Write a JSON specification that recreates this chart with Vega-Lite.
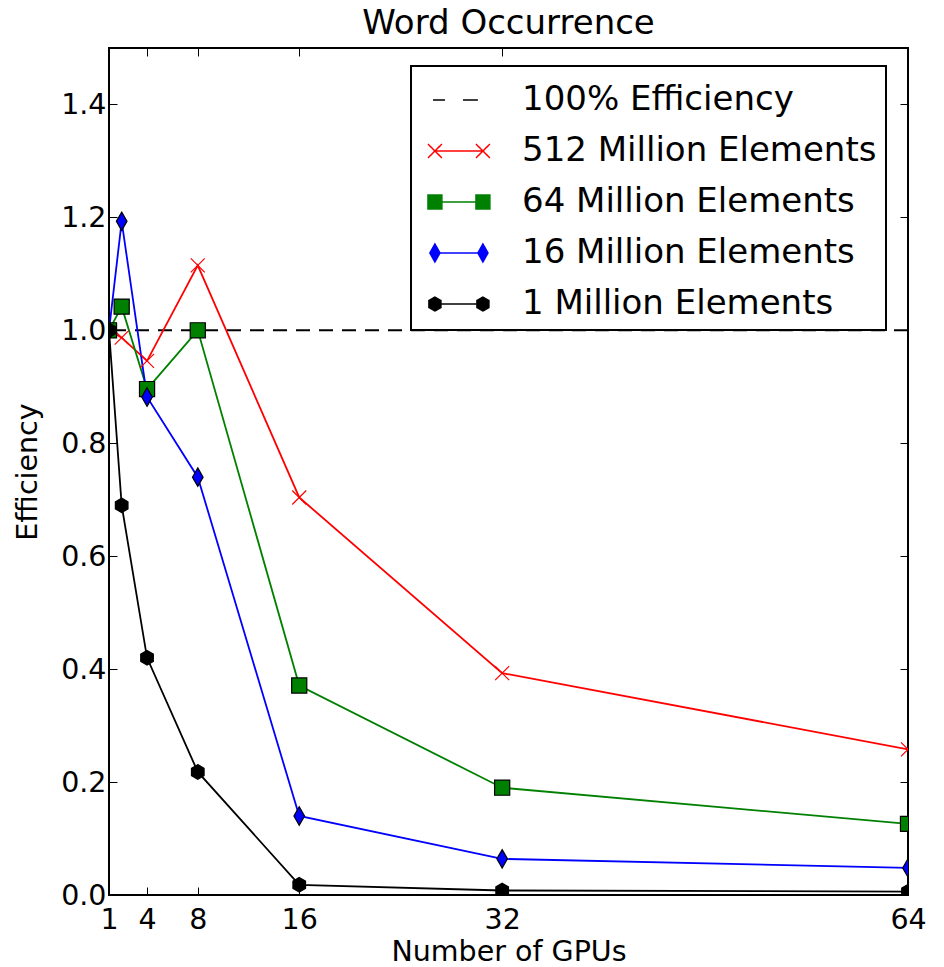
{
  "$schema": "https://vega.github.io/schema/vega-lite/v6.json",
  "width": 799,
  "height": 847,
  "autosize": {"type": "none"},
  "padding": {"left": 109, "top": 48, "right": 36, "bottom": 72},
  "background": "white",
  "title": {"text": "Word Occurrence", "fontSize": 34, "font": "DejaVu Sans", "fontWeight": "normal", "color": "black", "offset": 7},
  "config": {
    "view": {"stroke": "black", "strokeWidth": 2},
    "axis": {"labelFont": "DejaVu Sans", "titleFont": "DejaVu Sans", "labelColor": "black", "titleColor": "black", "titleFontWeight": "normal", "labelFontSize": 28.5, "titleFontSize": 28.5, "grid": false, "domain": false, "tickColor": "black", "tickSize": -8, "tickWidth": 1}
  },
  "datasets": {
    "eff": [
      {"gpus": 1, "eff": 1.0, "series": "512 Million Elements"},
      {"gpus": 2, "eff": 0.987, "series": "512 Million Elements"},
      {"gpus": 4, "eff": 0.946, "series": "512 Million Elements"},
      {"gpus": 8, "eff": 1.115, "series": "512 Million Elements"},
      {"gpus": 16, "eff": 0.704, "series": "512 Million Elements"},
      {"gpus": 32, "eff": 0.393, "series": "512 Million Elements"},
      {"gpus": 64, "eff": 0.258, "series": "512 Million Elements"},
      {"gpus": 1, "eff": 1.0, "series": "64 Million Elements"},
      {"gpus": 2, "eff": 1.042, "series": "64 Million Elements"},
      {"gpus": 4, "eff": 0.896, "series": "64 Million Elements"},
      {"gpus": 8, "eff": 1.0, "series": "64 Million Elements"},
      {"gpus": 16, "eff": 0.371, "series": "64 Million Elements"},
      {"gpus": 32, "eff": 0.19, "series": "64 Million Elements"},
      {"gpus": 64, "eff": 0.126, "series": "64 Million Elements"},
      {"gpus": 1, "eff": 1.0, "series": "16 Million Elements"},
      {"gpus": 2, "eff": 1.193, "series": "16 Million Elements"},
      {"gpus": 4, "eff": 0.882, "series": "16 Million Elements"},
      {"gpus": 8, "eff": 0.74, "series": "16 Million Elements"},
      {"gpus": 16, "eff": 0.14, "series": "16 Million Elements"},
      {"gpus": 32, "eff": 0.064, "series": "16 Million Elements"},
      {"gpus": 64, "eff": 0.048, "series": "16 Million Elements"},
      {"gpus": 1, "eff": 1.0, "series": "1 Million Elements"},
      {"gpus": 2, "eff": 0.69, "series": "1 Million Elements"},
      {"gpus": 4, "eff": 0.42, "series": "1 Million Elements"},
      {"gpus": 8, "eff": 0.218, "series": "1 Million Elements"},
      {"gpus": 16, "eff": 0.018, "series": "1 Million Elements"},
      {"gpus": 32, "eff": 0.008, "series": "1 Million Elements"},
      {"gpus": 64, "eff": 0.006, "series": "1 Million Elements"}
    ]
  },
  "resolve": {"axis": {"x": "independent", "y": "independent"}},
  "layer": [
    {
      "data": {"values": [{"series": "100% Efficiency", "eff": 1}]},
      "mark": {"type": "rule", "strokeDash": [14, 9], "strokeWidth": 2},
      "encoding": {
        "y": {"field": "eff", "type": "quantitative", "scale": {"domain": [0, 1.5], "nice": false}, "axis": null},
        "color": {"field": "series", "type": "nominal"}
      }
    },
    {
      "data": {"name": "eff"},
      "mark": {"type": "line", "strokeWidth": 1.8, "clip": true},
      "encoding": {
        "x": {"field": "gpus", "type": "quantitative", "scale": {"domain": [1, 64], "nice": false, "zero": false},
              "axis": {"values": [1, 4, 8, 16, 32, 64], "title": "Number of GPUs", "labelPadding": 18, "titlePadding": 4, "labelFlush": false}},
        "y": {"field": "eff", "type": "quantitative", "scale": {"domain": [0, 1.5], "nice": false},
              "axis": {"values": [0, 0.2, 0.4, 0.6, 0.8, 1.0, 1.2, 1.4], "format": ".1f", "title": "Efficiency", "labelPadding": 11, "titlePadding": 18}},
        "color": {
          "field": "series", "type": "nominal",
          "scale": {"domain": ["100% Efficiency", "512 Million Elements", "64 Million Elements", "16 Million Elements", "1 Million Elements"],
                    "range": ["black", "#ff0000", "#008000", "#0000ff", "black"]},
          "legend": {
            "orient": "none", "legendX": 302, "legendY": 18, "title": null,
            "labelFontSize": 34, "labelFont": "DejaVu Sans", "labelColor": "black", "labelLimit": 0,
            "symbolSize": 2304, "symbolStrokeWidth": 1.5, "strokeColor": "black", "fillColor": "white",
            "padding": 9, "labelOffset": 52, "rowPadding": 9,
            "encode": {
              "legend": {"update": {"strokeWidth": {"value": 2}}},
              "symbols": {"update": {
                "shape": {"signal": "datum.value === '100% Efficiency' ? 'M-0.5,0L0,0M0.75,0L1.37,0' : datum.value === '512 Million Elements' ? 'M-0.42,0L1.58,0M-0.71,-0.29L-0.13,0.29M-0.71,0.29L-0.13,-0.29M1.29,-0.29L1.87,0.29M1.29,0.29L1.87,-0.29' : datum.value === '64 Million Elements' ? 'M-0.42,0L1.58,0M-0.71,-0.29L-0.13,-0.29L-0.13,0.29L-0.71,0.29ZM1.29,-0.29L1.87,-0.29L1.87,0.29L1.29,0.29Z' : datum.value === '16 Million Elements' ? 'M-0.42,0L1.58,0M-0.42,-0.375L-0.21,0L-0.42,0.375L-0.63,0ZM1.58,-0.375L1.79,0L1.58,0.375L1.37,0Z' : 'M-0.42,0L1.58,0M-0.42,-0.29L-0.17,-0.145L-0.17,0.145L-0.42,0.29L-0.67,0.145L-0.67,-0.145ZM1.58,-0.29L1.83,-0.145L1.83,0.145L1.58,0.29L1.33,0.145L1.33,-0.145Z'"},
                "stroke": {"signal": "datum.value === '512 Million Elements' ? '#ff0000' : datum.value === '64 Million Elements' ? '#008000' : datum.value === '16 Million Elements' ? '#0000ff' : 'black'"},
                "fill": {"signal": "datum.value === '64 Million Elements' ? '#008000' : datum.value === '16 Million Elements' ? '#0000ff' : datum.value === '1 Million Elements' ? 'black' : 'transparent'"},
                "strokeDash": {"value": [1, 0]},
                "opacity": {"value": 1}
              }}
            }
          }
        }
      }
    },
    {
      "data": {"name": "eff"},
      "mark": {"type": "point", "filled": true, "size": 3136, "opacity": 1, "strokeWidth": 1.2, "clip": true},
      "encoding": {
        "x": {"field": "gpus", "type": "quantitative", "axis": null},
        "y": {"field": "eff", "type": "quantitative", "axis": null},
        "color": {"field": "series", "type": "nominal"},
        "shape": {"field": "series", "type": "nominal", "legend": null,
                  "scale": {"domain": ["512 Million Elements", "64 Million Elements", "16 Million Elements", "1 Million Elements"],
                            "range": ["M-0.25,-0.25L0.25,0.25M-0.25,0.25L0.25,-0.25", "M-0.27,-0.27L0.27,-0.27L0.27,0.27L-0.27,0.27Z", "M0,-0.33L0.19,0L0,0.33L-0.19,0Z", "M0,-0.26L0.225,-0.13L0.225,0.13L0,0.26L-0.225,0.13L-0.225,-0.13Z"]}},
        "stroke": {"field": "series", "type": "nominal", "legend": null,
                   "scale": {"domain": ["512 Million Elements", "64 Million Elements", "16 Million Elements", "1 Million Elements"],
                             "range": ["#ff0000", "black", "black", "black"]}}
      }
    },
    {
      "data": {"name": "eff"},
      "mark": {"type": "point", "opacity": 0},
      "encoding": {
        "x": {"field": "gpus", "type": "quantitative",
              "axis": {"orient": "top", "values": [1, 4, 8, 16, 32, 64], "labels": false, "title": null}},
        "y": {"field": "eff", "type": "quantitative",
              "axis": {"orient": "right", "values": [0, 0.2, 0.4, 0.6, 0.8, 1.0, 1.2, 1.4], "labels": false, "title": null}}
      }
    }
  ]
}
